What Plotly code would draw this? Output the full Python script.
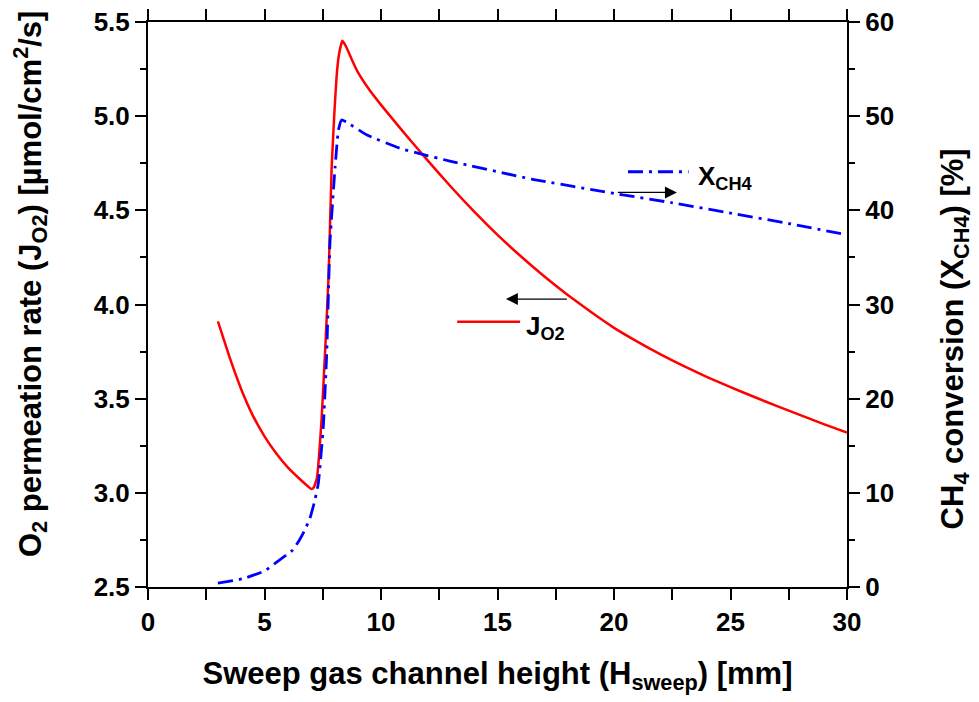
import plotly.graph_objects as go

# ---- data ----
h_j = [3.0, 3.5, 4.0, 4.5, 5.0, 5.5, 6.0, 6.5, 7.02, 7.12, 7.25, 7.45, 7.6, 7.75, 7.88, 8.0,
       8.1, 8.2, 8.34, 8.5, 8.75, 9.0, 9.5, 10.0, 11.0, 12.0, 13.0, 14.0, 15.0, 16.0, 17.0,
       18.0, 19.0, 20.0, 21.0, 22.0, 23.0, 24.0, 25.0, 26.0, 27.0, 28.0, 29.0, 30.0]
j_o2 = [3.91, 3.72, 3.55, 3.41, 3.30, 3.21, 3.135, 3.075, 3.02, 3.03, 3.08, 3.39, 3.75, 4.15,
        4.72, 5.02, 5.22, 5.33, 5.40, 5.37, 5.30, 5.235, 5.14, 5.06, 4.91, 4.765, 4.625, 4.493,
        4.37, 4.256, 4.15, 4.052, 3.961, 3.876, 3.803, 3.735, 3.673, 3.615, 3.561, 3.51, 3.46,
        3.413, 3.365, 3.32]

h_x = [3.0, 4.1, 5.0, 5.5, 6.2, 6.5, 6.7, 6.95, 7.17, 7.31, 7.52, 7.67, 7.81, 8.03, 8.17, 8.31,
       8.5, 9.4, 10.8, 11.7, 13.0, 16.5, 20.0, 22.5, 25.0, 27.5, 30.0]
x_ch4 = [0.4, 0.9, 1.7, 2.6, 3.9, 5.0, 5.9, 7.3, 9.3, 11.0, 16.9, 24.8, 36.6, 44.6, 48.5, 49.6,
         49.4, 48.0, 46.6, 46.0, 45.2, 43.3, 41.8, 40.8, 39.7, 38.6, 37.4]

FONT = "Arial, Liberation Sans, sans-serif"
BLUE_DASH = "15px,6px,3px,6px"

fig = go.Figure()
fig.add_trace(go.Scatter(x=h_j, y=j_o2, mode="lines", yaxis="y",
                         line=dict(color="#FF0000", width=2.5, shape="spline", smoothing=0.4),
                         showlegend=False))
fig.add_trace(go.Scatter(x=h_x, y=x_ch4, mode="lines", yaxis="y2",
                         line=dict(color="#0000FF", width=2.8, dash=BLUE_DASH,
                                   shape="spline", smoothing=0.4),
                         showlegend=False))

axis_common = dict(showline=True, linecolor="black", linewidth=2, ticks="outside",
                   ticklen=11, tickwidth=2, tickcolor="black", showgrid=False, zeroline=False,
                   automargin=False, ticklabeloverflow="allow",
                   tickfont=dict(family=FONT, size=26, color="black", weight="bold"))
minor_common = dict(ticks="outside", ticklen=6, tickwidth=2, tickcolor="black")
title_font = dict(family=FONT, size=31, color="black")

# the page body adds an 8 px offset, so the figure is 8 px smaller than the window
fig.update_layout(
    width=971, height=694,
    margin=dict(l=140, r=132, t=14, b=115),
    plot_bgcolor="white", paper_bgcolor="white",
    xaxis=dict(range=[0, 30], dtick=5, mirror="allticks",
               minor=dict(dtick=2.5, **minor_common),
               title=dict(text="<b>Sweep gas channel height (H<sub>sweep</sub>) [mm]</b>",
                          font=title_font, standoff=26),
               **axis_common),
    yaxis=dict(range=[2.5, 5.5], dtick=0.5, tickformat=".1f",
               minor=dict(dtick=0.25, **minor_common),
               **axis_common),
    yaxis2=dict(range=[0, 60], dtick=10, overlaying="y", side="right",
                minor=dict(dtick=5, **minor_common),
                **axis_common),
)

# axis titles of the two y axes
fig.add_annotation(x=-0.169, y=0.536, xref="paper", yref="paper", textangle=-90,
                   xanchor="center", yanchor="middle", showarrow=False,
                   text="<b>O<sub>2</sub> permeation rate (J<sub>O2</sub>) [µmol/cm<sup>2</sup>/s]</b>",
                   font=title_font)
fig.add_annotation(x=1.1545, y=0.44, xref="paper", yref="paper", textangle=-90,
                   xanchor="center", yanchor="middle", showarrow=False,
                   text="<b>CH<sub>4</sub> conversion (X<sub>CH4</sub>) [%]</b>",
                   font=title_font)

# legend samples
fig.add_shape(type="line", xref="x", yref="y2", x0=20.6, x1=23.2, y0=44.1, y1=44.1,
              line=dict(color="#0000FF", width=2.8, dash=BLUE_DASH))
fig.add_shape(type="line", xref="x", yref="y", x0=13.27, x1=15.97, y0=3.908, y1=3.908,
              line=dict(color="#FF0000", width=2.5))

fig.add_annotation(x=23.5, y=44.1, xref="x", yref="y2", xanchor="left", yanchor="middle",
                   text="<b>X<sub>CH4</sub></b>", showarrow=False, yshift=-6,
                   font=dict(family=FONT, size=26, color="black"))
fig.add_annotation(x=16.15, y=3.908, xref="x", yref="y", xanchor="left", yanchor="middle",
                   text="<b>J<sub>O2</sub></b>", showarrow=False, yshift=-6,
                   font=dict(family=FONT, size=26, color="black"))

# arrows pointing to the axes
fig.add_annotation(x=22.7, y=41.9, xref="x", yref="y2", ax=20.1, ay=41.9, axref="x", ayref="y2",
                   text="", showarrow=True, arrowhead=2, arrowsize=2, arrowwidth=1.2,
                   arrowcolor="black")
fig.add_annotation(x=15.36, y=4.029, xref="x", yref="y", ax=18.04, ay=4.029, axref="x", ayref="y",
                   text="", showarrow=True, arrowhead=2, arrowsize=2, arrowwidth=1.2,
                   arrowcolor="black")

fig.write_html("out.html")
